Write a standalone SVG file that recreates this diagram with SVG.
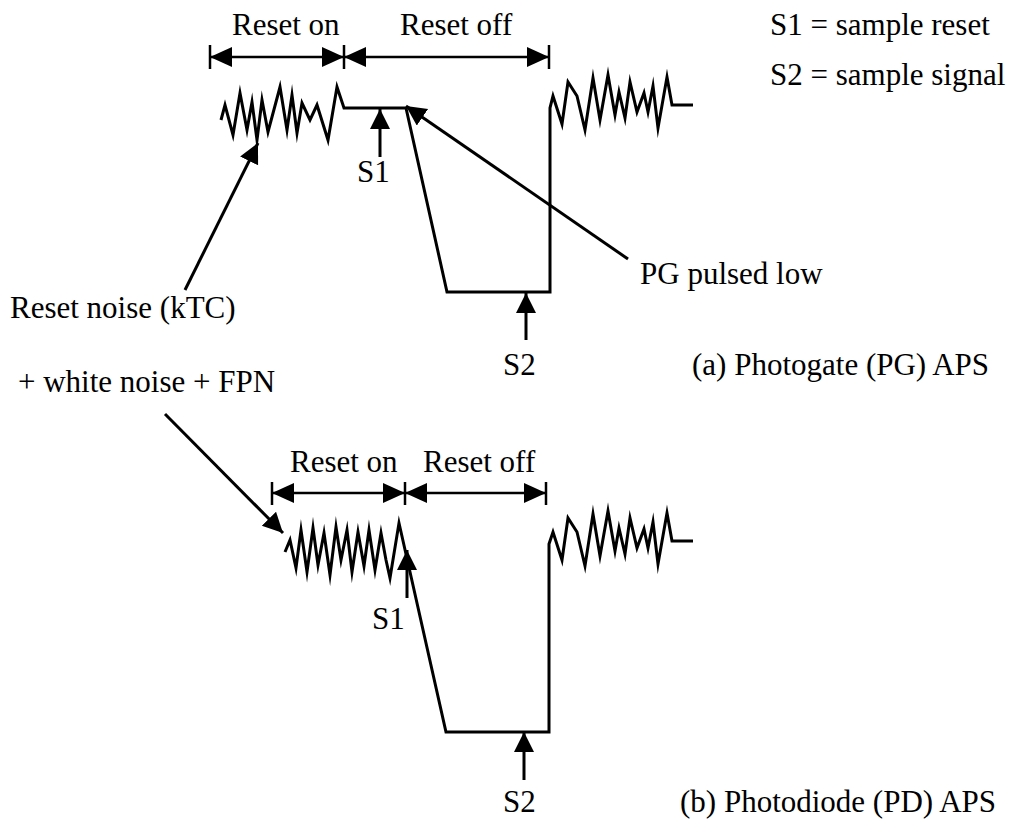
<svg xmlns="http://www.w3.org/2000/svg" width="1009" height="820" viewBox="0 0 1009 820">
<style>
text{font-family:"Liberation Serif","Times New Roman",serif;font-size:31px;fill:#000}
.w{fill:none;stroke:#000;stroke-width:3;stroke-linejoin:miter;stroke-miterlimit:10}
.a{fill:none;stroke:#000;stroke-width:3}
.d{fill:none;stroke:#000;stroke-width:2.5}
.t{stroke:#000;stroke-width:2.5}
</style>
<defs>
<marker id="ah" markerUnits="userSpaceOnUse" markerWidth="22" markerHeight="22" refX="20" refY="10" orient="auto"><path d="M0,0 L20,10 L0,20 z" fill="#000"/></marker>
<marker id="dh" markerUnits="userSpaceOnUse" markerWidth="24" markerHeight="22" refX="22" refY="10" orient="auto-start-reverse"><path d="M0,0 L22,10 L0,20 z" fill="#000"/></marker>
</defs>
<rect width="1009" height="820" fill="#fff"/>

<g id="labels">
<text x="232" y="35">Reset on</text>
<text x="400" y="35">Reset off</text>
<text x="770" y="35">S1 = sample reset</text>
<text x="770" y="85">S2 = sample signal</text>
<text x="357" y="182">S1</text>
<text x="640" y="284">PG pulsed low</text>
<text x="10" y="318">Reset noise (kTC)</text>
<text x="18" y="392">+ white noise + FPN</text>
<text x="503" y="375">S2</text>
<text x="692" y="375">(a) Photogate (PG) APS</text>
<text x="290" y="472">Reset on</text>
<text x="423" y="472">Reset off</text>
<text x="372" y="629">S1</text>
<text x="503" y="812">S2</text>
<text x="680" y="812">(b) Photodiode (PD) APS</text>
</g>

<g id="waveform-a">
<path class="w" d="M221,120 L225,105 L233,135 L240,93 L247,130 L252,102 L257,140 L262,100 L268,132 L280,87 L287,130 L292,95 L297,133 L302,103 L310,120 L317,105 L328,140 L337,87 L344,108 L406,108 L447,292 L550,292 L550,108 L553,96 L562,124 L568,82 L577,96 L585,130 L593,78 L600,120 L608,75 L615,115 L619,92 L625,118 L630,82 L637,112 L644,93 L648,112 L653,86 L658,128 L667,77 L672,105 L693,105"/>
</g>

<g id="waveform-b">
<path class="w" d="M285,552 L290,540 L296,568 L301,530 L307,572 L313,528 L318,565 L324,533 L330,575 L336,527 L341,560 L347,530 L352,572 L358,532 L364,566 L369,530 L375,570 L381,533 L386,560 L390,578 L399,523 L446,732 L549,732 L549,544 L553,532 L562,560 L568,518 L577,532 L585,566 L593,514 L600,556 L608,511 L615,551 L619,528 L625,554 L630,518 L637,548 L644,529 L648,548 L653,522 L658,564 L667,513 L672,541 L693,541"/>
</g>

<g id="connectors">
<line class="t" x1="210" y1="45" x2="210" y2="69"/>
<line class="t" x1="344" y1="45" x2="344" y2="69"/>
<line class="t" x1="549" y1="45" x2="549" y2="69"/>
<line class="d" x1="210" y1="57" x2="344" y2="57" marker-start="url(#dh)" marker-end="url(#dh)"/>
<line class="d" x1="344" y1="57" x2="549" y2="57" marker-start="url(#dh)" marker-end="url(#dh)"/>

<line class="t" x1="272" y1="482" x2="272" y2="505"/>
<line class="t" x1="405" y1="482" x2="405" y2="505"/>
<line class="t" x1="546" y1="482" x2="546" y2="505"/>
<line class="d" x1="272" y1="493" x2="405" y2="493" marker-start="url(#dh)" marker-end="url(#dh)"/>
<line class="d" x1="405" y1="493" x2="546" y2="493" marker-start="url(#dh)" marker-end="url(#dh)"/>

<line class="a" x1="380" y1="157" x2="380" y2="109" marker-end="url(#ah)"/>
<line class="a" x1="628" y1="259" x2="406" y2="106" marker-end="url(#ah)"/>
<line class="a" x1="185" y1="290" x2="258" y2="143" marker-end="url(#ah)"/>
<line class="a" x1="526" y1="340" x2="526" y2="293" marker-end="url(#ah)"/>
<line class="a" x1="165" y1="414" x2="283" y2="533" marker-end="url(#ah)"/>
<line class="a" x1="407" y1="598" x2="407" y2="550" marker-end="url(#ah)"/>
<line class="a" x1="524" y1="780" x2="524" y2="732" marker-end="url(#ah)"/>
</g>
</svg>
